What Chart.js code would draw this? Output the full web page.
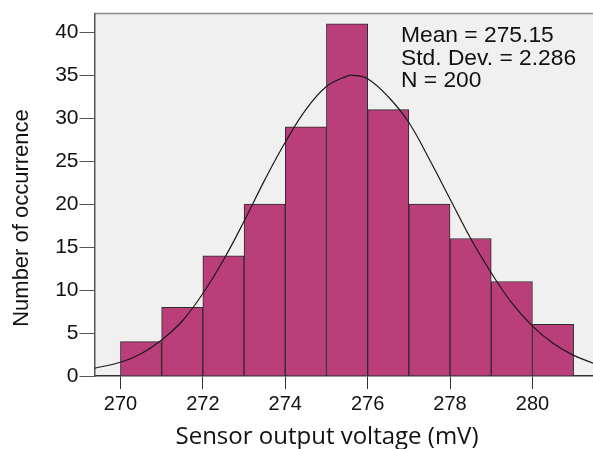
<!DOCTYPE html>
<html>
<head>
<meta charset="utf-8">
<script src="https://cdn.jsdelivr.net/npm/chart.js@4.4.1/dist/chart.umd.min.js"></script>
<style>
  html, body { margin: 0; padding: 0; background: #fff; }
  #wrap { width: 593px; height: 449px; position: relative; }
</style>
</head>
<body>
<div id="wrap"><canvas id="histogram"></canvas></div>
<script>
// histogram bins (lower edges, mV) and counts
const binStarts = [270, 271, 272, 273, 274, 275, 276, 277, 278, 279, 280];
const counts = [4, 8, 14, 20, 29, 41, 31, 20, 16, 11, 6];

// fitted normal curve
const curveX = [269.37, 270, 270.5, 271, 271.5, 272, 272.5, 273, 273.5, 274, 274.5, 275, 275.5, 275.65,
                276, 276.5, 277, 277.5, 278, 278.5, 279, 279.5, 280, 280.5, 281, 281.47];
const curveY = [0.9, 1.6, 2.6, 4.2, 6.4, 9.6, 13.5, 18.0, 22.8, 27.2, 31.0, 33.7, 34.9, 35.0,
                34.6, 32.5, 29.5, 25.2, 20.6, 16.0, 12.0, 8.5, 5.8, 3.8, 2.4, 1.5];

const xTicks = [270, 272, 274, 276, 278, 280];
const yTicks = [0, 5, 10, 15, 20, 25, 30, 35, 40];

const statsLines = ['Mean = 275.15', 'Std. Dev. = 2.286', 'N = 200'];
const xTitle = 'Sensor output voltage (mV)';
const yTitle = 'Number of occurrence';

const plotFrame = {
    id: 'plotFrame',
    beforeDraw(chart) {
        const { ctx, chartArea: a } = chart;
        ctx.save();
        ctx.fillStyle = '#f0f0f0';
        ctx.fillRect(a.left, a.top, a.right - a.left, a.bottom - a.top);
        ctx.strokeStyle = '#8a8a8a';
        ctx.lineWidth = 1.5;
        ctx.beginPath();
        ctx.moveTo(a.left, a.top);
        ctx.lineTo(a.right, a.top);
        ctx.stroke();
        ctx.restore();
    },
    afterDraw(chart) {
        const { ctx } = chart;
        ctx.save();
        ctx.fillStyle = '#111';
        ctx.font = '22.8px "Liberation Sans", Arial, sans-serif';
        ctx.textAlign = 'left';
        ctx.textBaseline = 'alphabetic';
        statsLines.forEach((line, i) => {
            ctx.fillText(line, 401, 42 + i * 22.5);
        });

        ctx.font = '24px "Open Sans", "Noto Sans", sans-serif';
        ctx.textAlign = 'center';
        ctx.fillText(xTitle, 327, 444);

        ctx.translate(28, 218);
        ctx.rotate(-Math.PI / 2);
        ctx.font = '22px "Liberation Sans", Arial, sans-serif';
        ctx.fillText(yTitle, 0, 0);
        ctx.restore();
    }
};

const ctx = document.getElementById('histogram');

new Chart(ctx, {
    data: {
        datasets: [{
            type: 'line',
            label: 'Normal',
            data: curveX.map((x, i) => ({ x: x, y: curveY[i] })),
            borderColor: '#1a1a1a',
            borderWidth: 1.2,
            pointRadius: 0,
            tension: 0.4,
            fill: false
        }, {
            type: 'bar',
            label: 'Count',
            data: binStarts.map((x, i) => ({ x: x + 0.5, y: counts[i] })),
            backgroundColor: 'rgb(185, 62, 122)',
            borderColor: '#2b2b2b',
            borderWidth: 1,
            barPercentage: 1,
            categoryPercentage: 1
        }]
    },
    options: {
        responsive: true,
        maintainAspectRatio: false,
        animation: false,
        layout: {
            padding: { top: 9.3, left: 0, right: 0, bottom: 0 }
        },
        plugins: {
            legend: { display: false },
            tooltip: { enabled: false }
        },
        scales: {
            x: {
                type: 'linear',
                offset: false,
                min: 269.37,
                max: 281.47,
                afterBuildTicks: scale => {
                    scale.ticks = xTicks.map(v => ({ value: v }));
                },
                afterFit: scale => {
                    scale.height = 73;
                    scale.paddingLeft = 0;
                    scale.paddingRight = 0;
                },
                ticks: {
                    font: { family: '"Liberation Sans", Arial, sans-serif', size: 20 },
                    color: '#111',
                    padding: 3,
                    maxRotation: 0
                },
                grid: {
                    offset: false,
                    drawOnChartArea: false,
                    drawTicks: true,
                    tickLength: 13,
                    color: '#333'
                },
                border: { display: true, color: '#333', width: 1.5 }
            },
            y: {
                min: 0,
                max: 42.18,
                afterBuildTicks: scale => {
                    scale.ticks = yTicks.map(v => ({ value: v }));
                },
                afterFit: scale => {
                    scale.width = 94.5;
                },
                ticks: {
                    font: { family: '"Liberation Sans", Arial, sans-serif', size: 21 },
                    color: '#111',
                    padding: 1
                },
                grid: {
                    drawOnChartArea: false,
                    drawTicks: true,
                    tickLength: 15,
                    color: '#555'
                },
                border: { display: true, color: '#555', width: 1.5 }
            }
        }
    },
    plugins: [plotFrame]
});
</script>
</body>
</html>
